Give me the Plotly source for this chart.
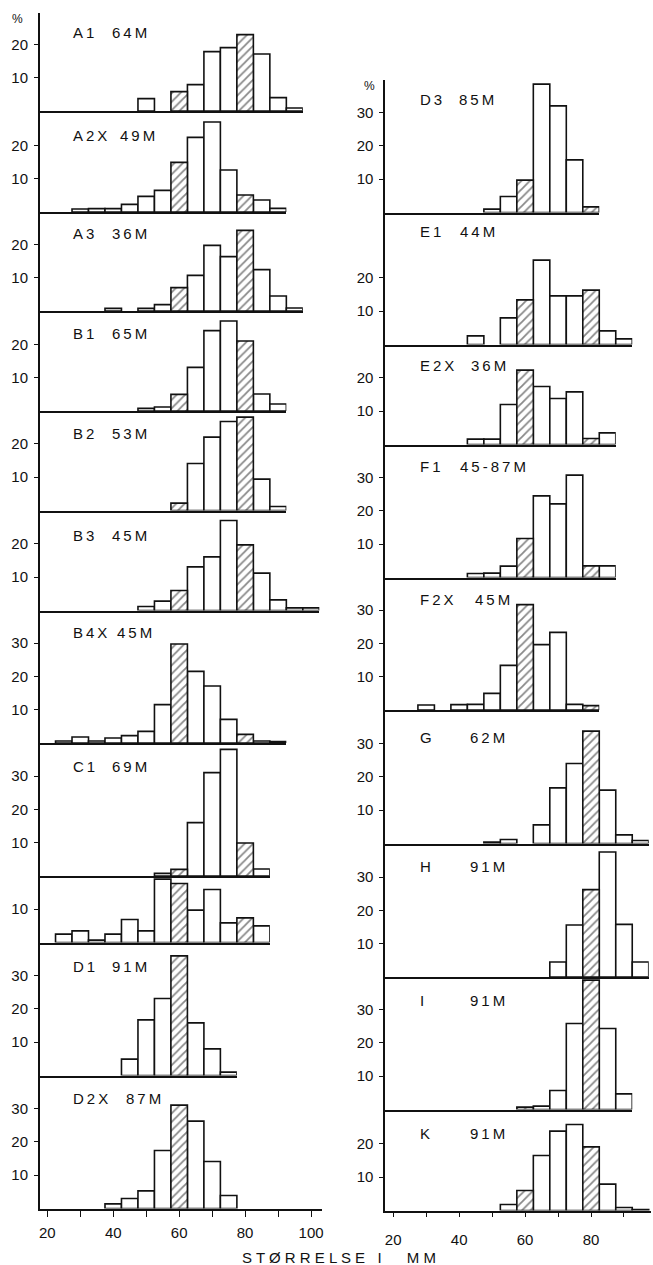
import plotly.graph_objects as go

W, H = 653, 1265

# Size classes (mm, class centres) and the classes drawn hatched
BINS = list(range(20, 101, 5))
HATCHED = [60, 80]

# Percentage of fish per 5 mm size class (None = no fish in class)
A1 = [None, None, None, None, None, None, 3.7, None, 5.8, 7.9, 17.8, 19.0, 22.9, 17.1, 4.0, 0.9, None]
A2X = [None, None, 0.9, 1.0, 1.0, 2.3, 4.7, 6.5, 14.9, 22.4, 27.0, 12.6, 5.1, 3.6, 1.1, None, None]
A3 = [None, None, None, None, 0.8, None, 0.8, 1.9, 7.0, 10.7, 19.7, 16.3, 24.2, 12.4, 4.5, 0.9, None]
B1 = [None, None, None, None, None, None, 0.8, 1.2, 5.0, 13.1, 24.1, 27.0, 21.0, 5.1, 2.1, None, None]
B2 = [None, None, None, None, None, None, None, None, 2.2, 14.1, 22.0, 26.7, 28.0, 9.4, 1.2, None, None]
B3 = [None, None, None, None, None, None, 1.2, 2.8, 6.0, 13.1, 16.1, 27.0, 19.7, 11.2, 3.2, 0.8, 0.8]
B4X = [None, 0.6, 1.8, 0.6, 1.5, 2.2, 3.5, 11.5, 29.7, 21.5, 17.1, 7.1, 2.6, 0.6, 0.4, None, None]
C1 = [None, None, None, None, None, None, None, 0.8, 2.0, 16.0, 31.0, 38.0, 9.9, 2.1, None, None, None]
C2 = [None, 2.5, 3.5, 0.7, 2.5, 6.9, 3.5, 19.0, 17.7, 9.7, 15.9, 5.9, 7.4, 5.0, None, None, None]
D1 = [None, None, None, None, None, 4.9, 16.7, 23.1, 35.9, 15.8, 8.0, 1.0, None, None, None, None, None]
D2X = [None, None, None, None, 1.4, 3.0, 5.3, 17.4, 31.0, 26.2, 14.1, 3.9, None, None, None, None, None]

D3 = [None, None, None, None, None, None, 1.0, 4.8, 9.7, 38.5, 32.0, 15.8, 1.7, None, None, None, None]
E1 = [None, None, None, None, None, 2.6, None, 8.0, 13.4, 25.3, 14.6, 14.6, 16.3, 4.1, 1.7, None, None]
E2X = [None, None, None, None, None, 1.6, 1.6, 12.0, 22.3, 17.4, 13.8, 15.8, 1.8, 3.5, None, None, None]
F1 = [None, None, None, None, None, 1.2, 1.3, 3.4, 11.7, 24.5, 22.1, 30.7, 3.5, 3.5, None, None, None]
F2X = [None, None, 1.5, None, 1.6, 1.7, 5.0, 13.4, 31.6, 19.6, 23.3, 1.7, 1.3, None, None, None, None]
G = [None, None, None, None, None, None, 0.4, 1.2, None, 5.6, 16.7, 24.0, 33.7, 16.0, 2.6, 0.9, None]
HH = [None, None, None, None, None, None, None, None, None, None, 4.5, 15.6, 26.2, 37.5, 15.8, 4.5, None]
I = [None, None, None, None, None, None, None, None, 0.7, 1.0, 5.7, 25.8, 38.8, 24.3, 4.7, None, None]
K = [None, None, None, None, None, None, None, 1.8, 6.0, 16.5, 23.8, 25.8, 19.1, 7.9, 0.9, 0.3, None]

# Panel titles: station code and sample label
LEFT_CODES = ["A1", "A2X", "A3", "B1", "B2", "B3", "B4X", "C1", "", "D1", "D2X"]
LEFT_COUNTS = ["64M", "49M", "36M", "65M", "53M", "45M", "45M", "69M", "", "91M", "87M"]
LEFT_DATA = [A1, A2X, A3, B1, B2, B3, B4X, C1, C2, D1, D2X]
LEFT_TICKMAX = [20, 20, 20, 20, 20, 20, 30, 30, 10, 30, 30]

RIGHT_CODES = ["D3", "E1", "E2X", "F1", "F2X", "G", "H", "I", "K"]
RIGHT_COUNTS = ["85M", "44M", "36M", "45-87M", "45M", "62M", "91M", "91M", "91M"]
RIGHT_DATA = [D3, E1, E2X, F1, F2X, G, HH, I, K]
RIGHT_TICKMAX = [30, 20, 20, 30, 30, 30, 30, 30, 20]

X_TICKS = [20, 30, 40, 50, 60, 70, 80, 90, 100]
X_TICKTEXT = ["20", "", "40", "", "60", "", "80", "", "100"]

# ---- page geometry (pixels) ----
PX_PER_PCT = 3.3333
PX_PER_MM = 3.3125
FONT = "Liberation Sans"
INK = "#111111"
LW = 1.6

COLUMNS = [
    dict(axis_px=39.0, mm20_px=46.5, end_px=322.0, top=13.0,
         bases=[111, 212, 311, 411, 510.5, 610.5, 743, 876, 942.5, 1075.5, 1208.5],
         label_dy=[20, 24, 21, 22, 22, 24.5, 22, 23.7, 0, 23.5, 22.5],
         code_x=70, count_x=[110, 118, 110, 110, 110, 110, 115, 110, 0, 110, 124],
         pct_pos=(17, 19), tick_standoff=3, xticklen=7),
    dict(axis_px=386.0, mm20_px=394.0, end_px=653.0, top=79.5,
         bases=[212.5, 344.5, 444.5, 577.5, 710, 843.5, 977, 1109.5, 1210.5],
         label_dy=[20.5, 19, 20.5, 22, 22.5, 27, 22.5, 23, 24],
         code_x=419, count_x=[458, 459, 470, 459, 474, 469, 469, 469, 469],
         pct_pos=(370, 86), tick_standoff=10, xticklen=5),
]
COLUMNS[0].update(codes=LEFT_CODES, counts=LEFT_COUNTS, data=LEFT_DATA, tickmax=LEFT_TICKMAX)
COLUMNS[1].update(codes=RIGHT_CODES, counts=RIGHT_COUNTS, data=RIGHT_DATA, tickmax=RIGHT_TICKMAX)


def spaced(s, sep="\u2009"):
    return sep.join(s)


def px_to_mm(col, px):
    return 20 + (px - col["mm20_px"]) / PX_PER_MM


def mm_to_px(col, mm):
    return col["mm20_px"] + (mm - 20) * PX_PER_MM


fig = go.Figure()
layout = dict(
    width=W, height=H, margin=dict(l=0, r=0, t=0, b=0),
    paper_bgcolor="white", plot_bgcolor="rgba(0,0,0,0)",
    showlegend=False, barmode="overlay",
    font=dict(family=FONT, size=14, color=INK),
)
annotations = []
n = 0
for col in COLUMNS:
    top = col["top"]
    n_panels = len(col["data"])
    for p in range(n_panels):
        n += 1
        sfx = "" if n == 1 else str(n)
        base = col["bases"][p]
        vals = col["data"][p]
        last = (p == n_panels - 1)

        x_lo = px_to_mm(col, col["axis_px"])
        if last:
            end_px = col["end_px"]
        else:
            last_mm = max(b for b, v in zip(BINS, vals) if v is not None) + 2.5
            end_px = mm_to_px(col, last_mm)
        x_hi = px_to_mm(col, end_px)

        y_hi = (base - top) / PX_PER_PCT

        plain_x = [b for b, v in zip(BINS, vals) if v is not None and b not in HATCHED]
        plain_y = [v for b, v in zip(BINS, vals) if v is not None and b not in HATCHED]
        hat_x = [b for b, v in zip(BINS, vals) if v is not None and b in HATCHED]
        hat_y = [v for b, v in zip(BINS, vals) if v is not None and b in HATCHED]

        fig.add_trace(go.Bar(
            x=plain_x, y=plain_y, width=5, xaxis="x" + sfx, yaxis="y" + sfx,
            marker=dict(color="white", line=dict(color=INK, width=LW)),
            hoverinfo="x+y",
        ))
        fig.add_trace(go.Bar(
            x=hat_x, y=hat_y, width=5, xaxis="x" + sfx, yaxis="y" + sfx,
            marker=dict(color="white", line=dict(color=INK, width=LW),
                        pattern=dict(shape="/", size=6, solidity=0.3,
                                     fgcolor=INK, bgcolor="white", fillmode="overlay")),
            hoverinfo="x+y",
        ))

        xa = dict(
            domain=[col["axis_px"] / W, min(end_px / W, 1.0)],
            range=[x_lo, x_hi], anchor="y" + sfx,
            showline=True, linecolor=INK, linewidth=LW,
            showgrid=False, zeroline=False, fixedrange=True,
        )
        if last:
            xa.update(ticks="outside", ticklen=col["xticklen"], tickwidth=1.4,
                      tickcolor=INK, tickvals=X_TICKS, ticktext=X_TICKTEXT,
                      ticklabelstandoff=col["tick_standoff"],
                      tickfont=dict(family=FONT, size=15, color=INK))
        else:
            xa.update(ticks="", showticklabels=False)

        yticks = [t for t in (10, 20, 30) if t <= col["tickmax"][p]]
        ya = dict(
            domain=[1 - base / H, 1 - top / H],
            range=[0, y_hi], anchor="x" + sfx,
            showline=True, linecolor=INK, linewidth=LW,
            ticks="outside", ticklen=4, tickwidth=1.4, tickcolor=INK,
            tickvals=yticks, ticktext=[str(t) for t in yticks],
            ticklabelstandoff=3,
            tickfont=dict(family=FONT, size=15, color=INK),
            showgrid=False, zeroline=False, fixedrange=True,
        )
        layout["xaxis" + sfx] = xa
        layout["yaxis" + sfx] = ya

        code = col["codes"][p]
        if code:
            ly = 1 - (top + col["label_dy"][p]) / H
            annotations.append(dict(
                text=spaced(code), x=col["code_x"] / W, y=ly,
                xref="paper", yref="paper", xanchor="left", yanchor="middle",
                showarrow=False, font=dict(family=FONT, size=15, color=INK)))
            annotations.append(dict(
                text=spaced(col["counts"][p]), x=col["count_x"][p] / W, y=ly,
                xref="paper", yref="paper", xanchor="left", yanchor="middle",
                showarrow=False, font=dict(family=FONT, size=15, color=INK)))
        top = base

    px_, py_ = col["pct_pos"]
    annotations.append(dict(
        text="%", x=px_ / W, y=1 - py_ / H, xref="paper", yref="paper",
        xanchor="center", yanchor="middle", showarrow=False,
        font=dict(family=FONT, size=12, color=INK)))

# axis title under both columns
nb = "\u00a0"
title = " ".join("STØRRELSE") + nb * 3 + "I" + nb * 6 + "M M"
annotations.append(dict(
    text=title, x=240 / W, y=1 - 1257 / H, xref="paper", yref="paper",
    xanchor="left", yanchor="middle", showarrow=False,
    font=dict(family=FONT, size=15, color=INK)))

layout["annotations"] = annotations
fig.update_layout(**layout)
fig.write_html("out.html")
